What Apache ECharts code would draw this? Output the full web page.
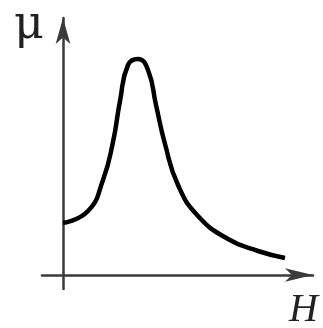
<!DOCTYPE html>
<html>
	<head>
		<meta charset="utf-8">
		<script type="text/javascript" src="https://cdn.jsdelivr.net/npm/echarts@6/dist/echarts.min.js"></script>
	</head>
	<body style="margin:0;">
		<div id="main" style="width:323px;height:328px;"></div>
		<script type="text/javascript">
			// 曲线数据：H 与 μ（相对单位）
			var hValues  = [0, 25, 40, 50, 57, 65, 75, 85, 93, 102, 115, 135, 165, 195, 222];
			var muValues = [52, 64, 95, 133, 174, 210, 216, 205, 170, 131, 90, 59, 36, 24, 17];
			var axisLabels = ['H', 'μ'];

			var curve = hValues.map(function (h, i) { return [h, muValues[i]]; });

			var myChart = echarts.init(document.getElementById('main'));

			var axisLine = {
				onZero: true,
				symbol: ['none', 'arrow'],
				lineStyle: { color: '#3a3a3a', width: 2.5 }
			};

			var option = {
				animation: false,
				grid: { left: 42, right: 10, top: 18, bottom: 39 },
				xAxis: {
					type: 'value', min: -21, max: 250,
					axisLine: Object.assign({ symbolSize: [10, 28] }, axisLine),
					axisTick: { show: false }, axisLabel: { show: false }, splitLine: { show: false }
				},
				yAxis: {
					type: 'value', min: -14, max: 257,
					axisLine: Object.assign({ symbolSize: [11, 26] }, axisLine),
					axisTick: { show: false }, axisLabel: { show: false }, splitLine: { show: false }
				},
				graphic: [
					{ type: 'text', left: 289, top: 290,
					  style: { text: axisLabels[0], font: 'italic 40px "Liberation Serif"', fill: '#222' } },
					{ type: 'text', left: 14, top: 3,
					  style: { text: axisLabels[1], font: '46px "DejaVu Serif"', fill: '#222' } }
				],
				series: [{
					type: 'line',
					data: curve,
					smooth: 0.5,
					symbol: 'none',
					lineStyle: { color: '#000', width: 4.5 }
				}]
			};

			myChart.setOption(option);
		</script>
	</body>
</html>
